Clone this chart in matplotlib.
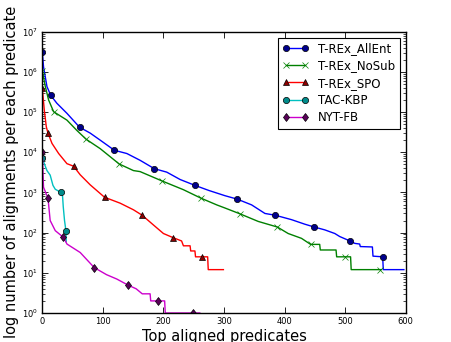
import matplotlib
matplotlib.use("Agg")
import matplotlib.pyplot as plt

# ---- data ----
allent_x = [0, 2, 7.7, 14, 24, 40.7, 61.5, 79, 95.6, 119, 139.6, 161.5, 185, 205.5, 227.5,
            252, 275, 301.6, 322, 345.6, 367.6, 385, 411.6, 433.5, 449, 466.5, 483, 491,
            508, 516, 524, 525, 545, 546, 562, 563, 597]
allent_y = [3.2e6, 1.35e6, 4.3e5, 2.6e5, 1.66e5, 9.3e4, 4.2e4, 3.0e4, 2.0e4, 1.12e4, 9.3e3,
            6.3e3, 3.9e3, 3.2e3, 2.1e3, 1.5e3, 1.12e3, 830, 680, 490, 300, 270, 210, 162,
            138, 117, 95, 80, 62, 54, 52, 45, 44, 26, 25, 12, 12]
allent_marks = [0, 14, 61.5, 119, 185, 252, 322, 385, 449, 508, 562]

nosub_x = [0, 5, 10.4, 18.7, 40.7, 57, 72.5, 95.6, 127, 150.5, 161.5, 197, 233, 262, 288,
           301.6, 326, 356.5, 388, 406, 428, 443, 458, 459, 485, 486, 500, 509, 510, 557, 560]
nosub_y = [1.07e6, 4.3e5, 2.0e5, 1.02e5, 6.3e4, 3.5e4, 2.1e4, 1.23e4, 5.1e3, 3.5e3, 3.3e3,
           1.95e3, 1.17e3, 720, 490, 410, 295, 190, 138, 95, 72, 51, 51, 37, 37, 25, 25, 25,
           12, 12, 12]
nosub_marks = [0, 18.7, 72.5, 127, 197, 262, 326, 388, 443, 500, 557]

spo_x = [0, 3.3, 6.6, 9.4, 16, 27, 40.7, 51.6, 62.6, 79, 102.7, 128.6, 150.5, 165, 183.5,
         200, 216, 230, 233, 244, 245, 252, 253, 263, 273, 274, 299]
spo_y = [3.9e5, 1.12e5, 4.3e4, 3.0e4, 1.66e4, 9.3e3, 5.2e3, 4.5e3, 2.75e3, 1.55e3, 760, 540,
         370, 270, 155, 95, 75, 62, 47, 47, 35, 35, 25, 25, 25, 12, 12]
spo_marks = [0, 9.4, 51.6, 102.7, 165, 216, 263]

tac_x = [0, 7.7, 13, 17.6, 21.4, 30.8, 33.5, 34.6, 36.7, 39, 39.5]
tac_y = [7e3, 3.5e3, 2.7e3, 1.5e3, 1.2e3, 1.0e3, 790, 440, 200, 112, 60]
tac_marks = [0, 30.8, 39]

nyt_x = [0, 2, 9.4, 13, 21.4, 35, 40.7, 62.6, 85.7, 106, 123, 141, 155, 165, 178, 179,
         191.7, 202, 203, 248, 260]
nyt_y = [1.0e4, 1.35e3, 720, 200, 112, 76, 52, 32, 13.5, 9, 7, 5, 4, 3, 3, 2, 2, 2, 1, 1, 1]
nyt_marks = [0, 9.4, 35, 85.7, 141, 191.7, 248]

labels = ["T-REx_AllEnt", "T-REx_NoSub", "T-REx_SPO", "TAC-KBP", "NYT-FB"]
xticks = [0, 100, 200, 300, 400, 500, 600]

# ---- plotting ----
fig = plt.figure(figsize=(4.51, 3.42), dpi=100)
ax = fig.add_axes([42.3 / 451, (342 - 313) / 342, (405.7 - 42.3) / 451, (313 - 31.7) / 342])

series = [
    (allent_x, allent_y, allent_marks, dict(color="#0000ff", marker="o", mfc="#00008b", mec="k")),
    (nosub_x, nosub_y, nosub_marks, dict(color="#008000", marker="x", mfc="none", mec="#008000")),
    (spo_x, spo_y, spo_marks, dict(color="#ff0000", marker="^", mfc="#8b0000", mec="k")),
    (tac_x, tac_y, tac_marks, dict(color="#00c0c0", marker="o", mfc="#008b8b", mec="k")),
    (nyt_x, nyt_y, nyt_marks, dict(color="#cc00cc", marker="d", mfc="#5a005a", mec="k")),
]
for (xs, ys, marks, st), lab in zip(series, labels):
    idx = [xs.index(m) for m in marks]
    ax.plot(xs, ys, label=lab, lw=1.0, ms=4.5, mew=0.5, markevery=idx, **st)

ax.set_yscale("log")
ax.set_xlim(0, 600)
ax.set_ylim(1, 1e7)
ax.set_xticks(xticks)
ax.tick_params(which="both", direction="in", top=True, right=True, labelsize=6, pad=3)
ax.tick_params(which="major", length=4, width=0.6)
ax.tick_params(which="minor", length=2, width=0.5)
for s in ax.spines.values():
    s.set_linewidth(1.0)

ax.set_xlabel("Top aligned predicates", fontsize=10.5, labelpad=2)
ax.set_ylabel("log number of alignments per each predicate", fontsize=10.5, labelpad=2)

leg = ax.legend(loc="upper right", fontsize=8.5, numpoints=2, fancybox=False,
                framealpha=1, edgecolor="k", borderaxespad=0.5, handlelength=2.2,
                borderpad=0.4, labelspacing=0.35)
leg.get_frame().set_linewidth(0.8)

fig.savefig("out.png", dpi=100, facecolor="white")
